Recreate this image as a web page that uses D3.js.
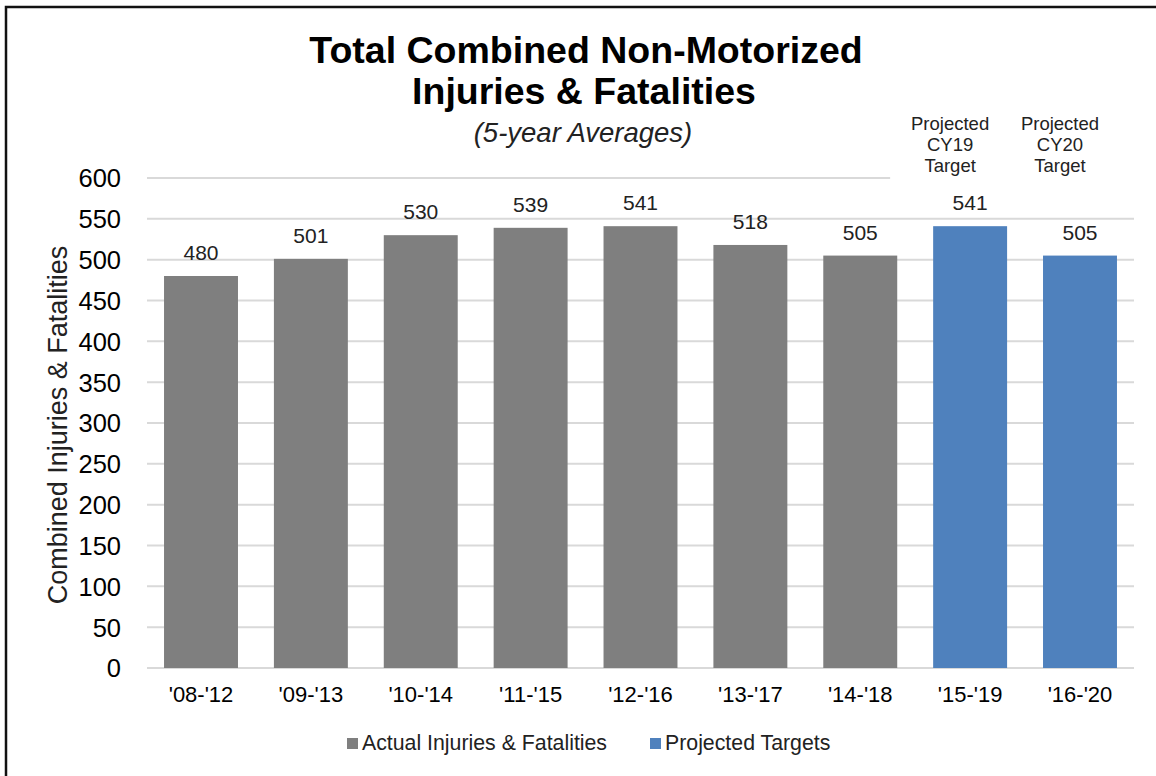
<!DOCTYPE html>
<html>
<head>
<meta charset="utf-8">
<script src="https://cdn.jsdelivr.net/npm/d3@7"></script>
<style>
  body { margin: 0; background: #fff; }
  text { font-family: "Liberation Sans", Arial, sans-serif; fill: #000; }
</style>
</head>
<body>
<div id="chart"></div>
<script>
// data
var periods = ["'08-'12", "'09-'13", "'10-'14", "'11-'15", "'12-'16", "'13-'17", "'14-'18", "'15-'19", "'16-'20"]
var actual = [480, 501, 530, 539, 541, 518, 505, null, null]
var projected = [null, null, null, null, null, null, null, 541, 505]
var yTicks = [0, 50, 100, 150, 200, 250, 300, 350, 400, 450, 500, 550, 600]
var notes = [null, null, null, null, null, null, null, ["Projected", "CY19", "Target"], ["Projected", "CY20", "Target"]]
var seriesNames = ["Actual Injuries & Fatalities", "Projected Targets"]
var colors = ["#7f7f7f", "#4f81bd"]

var w = 1156, h = 776
var plot = { left: 147, right: 1134, top: 178, bottom: 668 }

var svg = d3.select('#chart').append('svg')
  .attr('width', w)
  .attr('height', h)

// outer frame (only top and left visible in the picture)
svg.append('rect')
  .attr('x', 6).attr('y', 7)
  .attr('width', w + 20).attr('height', h + 20)
  .attr('fill', 'none')
  .attr('stroke', '#111')
  .attr('stroke-width', 2.5)

var x = d3.scaleBand()
  .domain(periods)
  .range([plot.left, plot.right])
  .paddingInner(0.327)
  .paddingOuter(0.155)

var y = d3.scaleLinear()
  .domain([0, 600])
  .range([plot.bottom, plot.top])

// gridlines
svg.selectAll('.grid')
  .data(yTicks)
  .enter().append('line')
  .attr('class', 'grid')
  .attr('x1', plot.left)
  .attr('x2', function(d) { return d === 600 ? x(periods[7]) - 43 : plot.right })
  .attr('y1', function(d) { return y(d) })
  .attr('y2', function(d) { return y(d) })
  .attr('stroke', '#d9d9d9')
  .attr('stroke-width', 2)

// y axis labels
var yAxis = svg.append('g')
  .attr('transform', 'translate(' + (plot.left - 26) + ',0)')
  .call(d3.axisLeft(y).tickValues(yTicks).tickSize(0).tickPadding(0))
yAxis.select('.domain').remove()
yAxis.selectAll('text')
  .style('font-size', '25.5px')
  .style('font-family', '"Liberation Sans", Arial, sans-serif')
  .attr('fill', '#000')
  .attr('dy', '0.35em')

// x axis labels
var xAxis = svg.append('g')
  .attr('transform', 'translate(0,' + plot.bottom + ')')
  .call(d3.axisBottom(x).tickSize(0).tickPadding(0))
xAxis.select('.domain').remove()
xAxis.selectAll('text')
  .style('font-size', '22px')
  .style('font-family', '"Liberation Sans", Arial, sans-serif')
  .attr('fill', '#000')
  .attr('dy', '34px')

// bars
var series = [actual, projected]
series.forEach(function(vals, si) {
  var rows = periods.map(function(p, i) { return { p: p, v: vals[i] } })
    .filter(function(d) { return d.v != null })

  svg.selectAll('.bar' + si)
    .data(rows)
    .enter().append('rect')
    .attr('class', 'bar' + si)
    .attr('x', function(d) { return x(d.p) })
    .attr('y', function(d) { return y(d.v) })
    .attr('width', x.bandwidth())
    .attr('height', function(d) { return y(0) - y(d.v) })
    .style('fill', colors[si])

  svg.selectAll('.lab' + si)
    .data(rows)
    .enter().append('text')
    .attr('class', 'lab' + si)
    .attr('x', function(d) { return x(d.p) + x.bandwidth() / 2 })
    .attr('y', function(d) { return y(d.v) - 16 })
    .attr('text-anchor', 'middle')
    .style('font-size', '21px')
    .style('fill', '#222')
    .text(function(d) { return d.v })
})

// projected target notes
periods.forEach(function(p, i) {
  if (!notes[i]) return
  var t = svg.append('text')
    .attr('text-anchor', 'middle')
    .style('font-size', '18.5px')
    .style('fill', '#222')
  notes[i].forEach(function(line, k) {
    t.append('tspan')
      .attr('x', x(p) + x.bandwidth() / 2 - 20)
      .attr('y', 130 + k * 21)
      .text(line)
  })
})

// titles
svg.append('text')
  .attr('x', 586).attr('y', 63)
  .attr('text-anchor', 'middle')
  .style('font-size', '37.5px')
  .style('font-weight', 'bold')
  .text('Total Combined Non-Motorized')
svg.append('text')
  .attr('x', 584).attr('y', 104)
  .attr('text-anchor', 'middle')
  .style('font-size', '37.5px')
  .style('font-weight', 'bold')
  .text('Injuries & Fatalities')
svg.append('text')
  .attr('x', 583).attr('y', 142)
  .attr('text-anchor', 'middle')
  .style('font-size', '27.5px')
  .style('font-style', 'italic')
  .style('fill', '#222')
  .text('(5-year Averages)')

// y axis title
svg.append('text')
  .attr('transform', 'translate(67,425) rotate(-90)')
  .attr('text-anchor', 'middle')
  .style('font-size', '27px')
  .style('fill', '#222')
  .text('Combined Injuries & Fatalities')

// legend
var legendX = [347, 650]
seriesNames.forEach(function(name, i) {
  svg.append('rect')
    .attr('x', legendX[i]).attr('y', 738)
    .attr('width', 11).attr('height', 11)
    .style('fill', colors[i])
  svg.append('text')
    .attr('x', legendX[i] + 15).attr('y', 750)
    .style('font-size', '21.3px')
    .style('fill', '#222')
    .text(name)
})
</script>
</body>
</html>
